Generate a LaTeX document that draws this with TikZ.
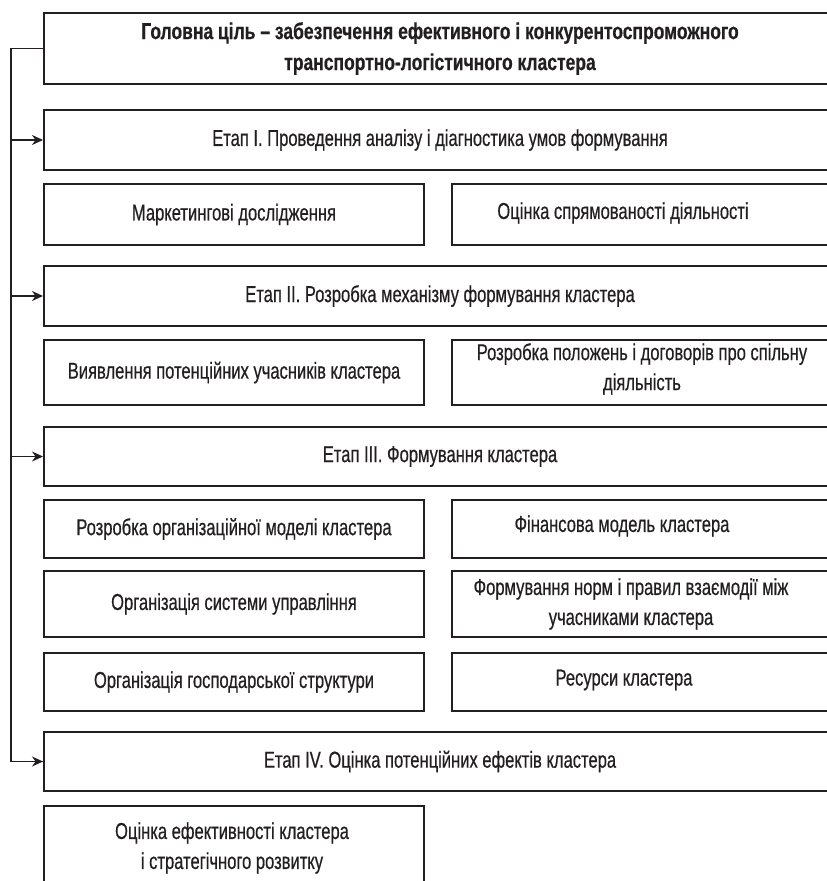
\documentclass[tikz,border=0pt]{standalone}
\usepackage{fontspec}
\setmainfont{Liberation Sans}[FakeStretch=0.72, FakeBold=0.5,
  BoldFeatures={FakeStretch=0.76}]
\usetikzlibrary{arrows.meta}

\definecolor{ink}{HTML}{231F20}

\tikzset{
  x=1pt, y=-1pt,
  box/.style={draw=ink, line width=2pt, anchor=north west, inner sep=0pt,
              font=\fontsize{23}{30}\selectfont, align=center, text=ink},
  wide/.style={box, minimum width=792pt},
  half/.style={box, minimum width=380pt},
  rhalf/.style={box, minimum width=400pt},
  lbl/.style={font=\fontsize{23}{30}\selectfont, align=center, text=ink, inner sep=0pt},
  trunk/.style={draw=ink, line width=1.4pt},
  feed/.style={trunk, -{Stealth[length=11pt,width=10pt]}},
}

\begin{document}
\begin{tikzpicture}
\useasboundingbox (0,0) rectangle (827,881);
\clip (0,0) rectangle (827,881);
\fill[white] (0,0) rectangle (827,881);

% goal
\node[wide, minimum height=71pt, font=\bfseries\fontsize{23}{31}\selectfont] (top) at (43,12)
  {Головна ціль – забезпечення ефективного і конкурентоспроможного\\
   транспортно-логістичного кластера};

% stage I
\node[wide, minimum height=60pt] (e1) at (43,109)
  {Етап І. Проведення аналізу і діагностика умов формування};
\node[half, minimum height=61pt] (a1) at (43,183) {Маркетингові дослідження};
\node[rhalf, minimum height=61pt] (b1) at (451,183) {};
\node[lbl] (b1t) at (623,213) {Оцінка спрямованості діяльності};

% stage II
\node[wide, minimum height=60pt] (e2) at (43,265)
  {Етап ІІ. Розробка механізму формування кластера};
\node[half, minimum height=65pt] (a2) at (43,339) {Виявлення потенційних учасників кластера};
\node[rhalf, minimum height=65pt] (b2) at (451,339) {};
\node[lbl] (b2t) at (642,369) {Розробка положень і договорів про спільну\\діяльність};

% stage III
\node[wide, minimum height=59pt] (e3) at (43,426)
  {Етап ІІІ. Формування кластера};
\node[half, minimum height=58pt] (a3) at (43,499) {Розробка організаційної моделі кластера};
\node[rhalf, minimum height=58pt] (b3) at (451,499) {};
\node[lbl] (b3t) at (622,526) {Фінансова модель кластера};
\node[half, minimum height=66pt] (a4) at (43,570) {Організація системи управління};
\node[rhalf, minimum height=66pt] (b4) at (451,570) {};
\node[lbl] (b4t) at (631,604) {Формування норм і правил взаємодії між\\учасниками кластера};
\node[half, minimum height=58pt] (a5) at (43,652) {Організація господарської структури};
\node[rhalf, minimum height=58pt] (b5) at (451,652) {};
\node[lbl] (b5t) at (624,680) {Ресурси кластера};

% stage IV
\node[wide, minimum height=59pt] (e4) at (43,731)
  {Етап IV. Оцінка потенційних ефектів кластера};
\node[half, minimum height=100pt] (a6) at (43,805) {};
\node[lbl] (a6t) at (232,848) {Оцінка ефективності кластера\\і стратегічного розвитку};

% left feed line
\draw[trunk] (top.west) -- ++(-32,0) coordinate (tk) |- (e4.west);
\draw[feed] (tk |- e1.west) -- (e1.west);
\draw[feed] (tk |- e2.west) -- (e2.west);
\draw[feed] (tk |- e3.west) -- (e3.west);
\draw[feed] (tk |- e4.west) -- (e4.west);
\end{tikzpicture}
\end{document}
